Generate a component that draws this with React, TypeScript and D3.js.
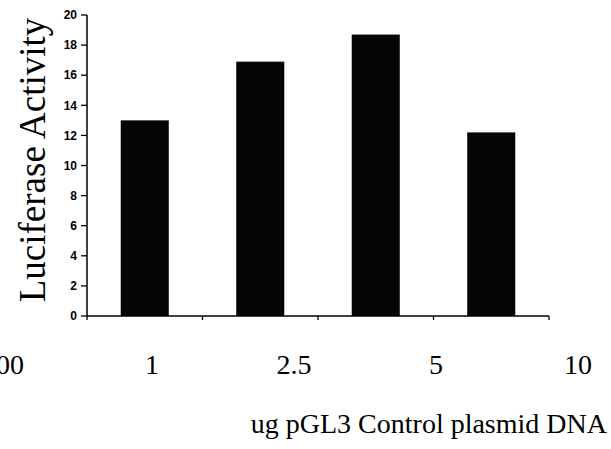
import React from "react";
import * as d3 from "d3";

const barCategories = ["1", "2.5", "5", "10"];
const barValues = [13.0, 16.9, 18.7, 12.2];
const doseLabels = ["00", "1", "2.5", "5", "10"];
const yTicks = [0, 2, 4, 6, 8, 10, 12, 14, 16, 18, 20];
const xTitle = "ug pGL3 Control plasmid DNA";
const yTitle = "Luciferase Activity";

const W = 611;
const H = 449;
const plotLeft = 87;
const plotRight = 549;
const plotTop = 15;
const plotBottom = 316;

export default function App() {
  const x = d3
    .scaleBand<string>()
    .domain(barCategories)
    .range([plotLeft, plotRight])
    .paddingInner(0.584)
    .paddingOuter(0.292);
  const y = d3.scaleLinear().domain([0, 20]).range([plotBottom, plotTop]);
  const labelX = d3.scalePoint<string>().domain(doseLabels).range([10, 578]);
  const step = x.step();
  const boundaries = d3.range(barCategories.length + 1).map((i) => plotLeft + i * step);

  return (
    <svg
      width={W}
      height={H}
      style={{ position: "absolute", left: 0, top: 0, background: "#fff" }}
    >
      {barCategories.map((c, i) => (
        <rect
          key={c}
          x={x(c)}
          y={y(barValues[i])}
          width={x.bandwidth()}
          height={y(0) - y(barValues[i])}
          fill="#050505"
        />
      ))}
      {/* y axis */}
      <line x1={plotLeft} x2={plotLeft} y1={y(20)} y2={y(0)} stroke="#000" strokeWidth={1.5} />
      {yTicks.map((t) => (
        <g key={t}>
          <line x1={plotLeft - 6} x2={plotLeft} y1={y(t)} y2={y(t)} stroke="#000" strokeWidth={1.3} />
          <text
            x={plotLeft - 10}
            y={y(t)}
            dy="0.35em"
            textAnchor="end"
            fontFamily="'Liberation Sans', Arial, sans-serif"
            fontWeight="bold"
            fontSize={12}
            fill="#000"
          >
            {t}
          </text>
        </g>
      ))}
      {/* x axis */}
      <line x1={plotLeft} x2={plotRight} y1={y(0)} y2={y(0)} stroke="#000" strokeWidth={1.5} />
      {boundaries.map((b, i) => (
        <line key={i} x1={b} x2={b} y1={y(0)} y2={y(0) + 4} stroke="#000" strokeWidth={1.3} />
      ))}
      {doseLabels.map((l) => (
        <text
          key={l}
          x={labelX(l)}
          y={374}
          textAnchor="middle"
          fontFamily="'Liberation Serif', 'Times New Roman', serif"
          fontSize={28}
          fill="#000"
        >
          {l}
        </text>
      ))}
      <text
        x={607}
        y={433}
        textAnchor="end"
        fontFamily="'Liberation Serif', 'Times New Roman', serif"
        fontSize={28}
        fill="#000"
      >
        {xTitle}
      </text>
      <text
        transform={`translate(45, 160) rotate(-90)`}
        textAnchor="middle"
        fontFamily="'Liberation Serif', 'Times New Roman', serif"
        fontSize={37}
        fill="#000"
      >
        {yTitle}
      </text>
    </svg>
  );
}
